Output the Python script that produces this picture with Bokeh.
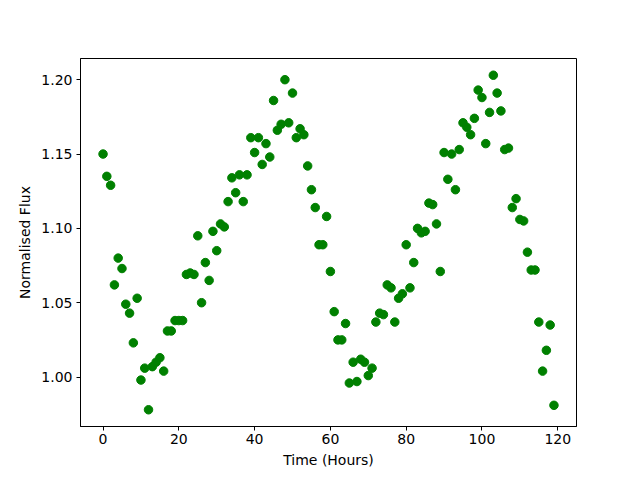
from bokeh.plotting import figure
from bokeh.models import ColumnDataSource, Range1d, FixedTicker, NumeralTickFormatter
from bokeh.embed import file_html
from bokeh.resources import INLINE

hours = list(range(120))
flux = [
    1.150, 1.135, 1.129, 1.062, 1.080, 1.073, 1.049, 1.043, 1.023, 1.053,
    0.998, 1.006, 0.978, 1.007, 1.010, 1.013, 1.004, 1.031, 1.031, 1.038,
    1.038, 1.038, 1.069, 1.070, 1.069, 1.095, 1.050, 1.077, 1.065, 1.098,
    1.085, 1.103, 1.101, 1.118, 1.134, 1.124, 1.136, 1.118, 1.136, 1.161,
    1.151, 1.161, 1.143, 1.157, 1.148, 1.186, 1.166, 1.170, 1.200, 1.171,
    1.191, 1.161, 1.167, 1.163, 1.142, 1.126, 1.114, 1.089, 1.089, 1.108,
    1.071, 1.044, 1.025, 1.025, 1.036, 0.996, 1.010, 0.997, 1.012, 1.010,
    1.001, 1.006, 1.037, 1.043, 1.042, 1.062, 1.060, 1.037, 1.053, 1.056,
    1.089, 1.060, 1.077, 1.100, 1.097, 1.098, 1.117, 1.116, 1.103, 1.071,
    1.151, 1.133, 1.150, 1.126, 1.153, 1.171, 1.168, 1.163, 1.174, 1.193,
    1.188, 1.157, 1.178, 1.203, 1.191, 1.179, 1.153, 1.154, 1.114, 1.120,
    1.106, 1.105, 1.084, 1.072, 1.072, 1.037, 1.004, 1.018, 1.035, 0.981,
]
x_ticks = [0, 20, 40, 60, 80, 100, 120]
y_ticks = [1.00, 1.05, 1.10, 1.15, 1.20]

src = ColumnDataSource(data=dict(x=hours, y=flux))

xpad = (max(hours) - min(hours)) * 0.05
ypad = (max(flux) - min(flux)) * 0.05

p = figure(width=624, height=470, output_backend="svg", toolbar_location=None,
           x_range=Range1d(min(hours) - xpad, max(hours) + xpad),
           y_range=Range1d(min(flux) - ypad, max(flux) + ypad),
           min_border_left=80, min_border_right=48, min_border_top=58, min_border_bottom=43)

p.scatter("x", "y", source=src, size=8.5, fill_color="green", line_color="green")

p.grid.visible = False
p.outline_line_color = "black"
p.outline_line_width = 1
p.outline_line_alpha = 1

p.xaxis.ticker = FixedTicker(ticks=x_ticks)
p.yaxis.ticker = FixedTicker(ticks=y_ticks)
p.yaxis.formatter = NumeralTickFormatter(format="0.00")
p.xaxis.axis_label = "Time (Hours)"
p.yaxis.axis_label = "Normalised Flux"

for ax in [p.xaxis[0], p.yaxis[0]]:
    ax.axis_line_color = "black"
    ax.major_tick_line_color = "black"
    ax.major_tick_in = 0
    ax.major_tick_out = 4
    ax.minor_tick_line_color = None
    ax.major_label_text_font = "DejaVu Sans"
    ax.major_label_text_font_size = "14px"
    ax.major_label_text_color = "black"
    ax.axis_label_text_font = "DejaVu Sans"
    ax.axis_label_text_font_size = "14px"
    ax.axis_label_text_font_style = "normal"
    ax.axis_label_text_color = "black"

p.xaxis[0].axis_label_standoff = 5
p.xaxis[0].major_label_standoff = 3
p.yaxis[0].axis_label_standoff = 5
p.yaxis[0].major_label_standoff = 4

open("out.html", "w").write(file_html(p, INLINE))
